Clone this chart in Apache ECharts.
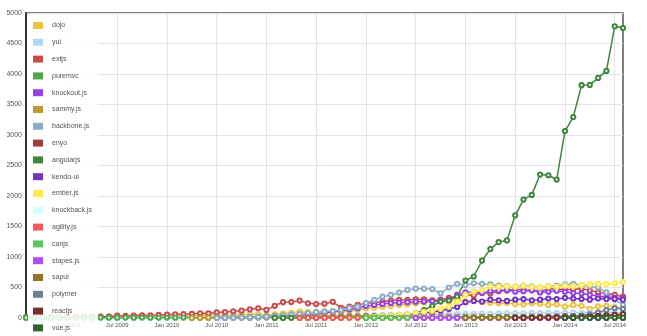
<!DOCTYPE html>
<html>
<head>
<meta charset="utf-8">
<script src="https://cdn.jsdelivr.net/npm/echarts@6/dist/echarts.min.js"></script>
<style>
html,body{margin:0;padding:0;background:#fff;}
#chart{width:647px;height:336px;}
</style>
</head>
<body>
<div id="chart"></div>
<script>
// Monthly data, first point = Aug 2008, last = Aug 2014 (73 months)
const startYear = 2008, startMonth = 8;
const yTicks = [0, 500, 1000, 1500, 2000, 2500, 3000, 3500, 4000, 4500, 5000];
const xTickLabels = ['Jan 2009','Jul 2009','Jan 2010','Jul 2010','Jan 2011','Jul 2011','Jan 2012','Jul 2012','Jan 2013','Jul 2013','Jan 2014','Jul 2014'];
const names = ['dojo','yui','extjs','puremvc','knockout.js','sammy.js','backbone.js','enyo','angularjs','kendo-ui','ember.js','knockback.js','agility.js','canjs','stapes.js','sapui','polymer','reactjs','vue.js'];
const colors = ['#edc240','#afd8f8','#cb4b4b','#4da74d','#9440ed','#be9b33','#8cadc6','#a23c3c','#3e863e','#7633be','#ffe94d','#d2ffff','#f45a5a','#5cc85c','#b24dff','#8e7426','#698295','#7a2d2d','#2e642e'];
const N = null;
function nulls(n){ const a=[]; for(let i=0;i<n;i++) a.push(N); return a; }

const dojo = [10,12,15,14,18,20,18,22,25,24,28,30,28,32,35,33,36,
  38,40,42,45,44,48,50,52,55,54,58,60,
  49,60,77,85,104,95,100,110,104,98,110,130,
  160,170,186,195,214,225,241,250,296,280,270,300,
  268,290,260,250,240,245,230,220,240,235,215,225,
  186,214,200,150,190,200,180,160];
const yui = [0,2,3,3,5,5,6,5,8,8,10,10,12,10,12,14,12,
  15,15,14,16,18,15,18,20,18,20,22,20,
  22,25,24,25,28,30,32,30,35,38,40,42,
  45,48,50,52,55,52,58,60,62,60,65,66,
  68,70,72,70,75,78,80,78,82,80,85,82,
  85,88,86,90,88,92,90,88];
const extjs = [15,15,18,18,20,20,22,20,22,22,22,38,35,40,45,42,50,
  55,60,62,70,77,75,93,95,110,120,143,160,
  132,200,260,262,285,240,228,235,265,165,186,214,
  241,252,268,285,296,296,307,307,285,300,330,360,
  380,370,420,400,440,450,470,460,455,440,470,480,
  460,470,480,450,420,400,380,350];
const puremvc = [5,5,6,6,5,6,7,6,6,7,6,6,7,6,7,6,6,
  7,6,7,6,7,6,7,7,6,7,6,7,
  8,7,8,8,7,8,9,8,8,9,8,9,
  9,8,9,10,9,9,10,9,10,9,10,10,
  9,10,9,10,9,10,10,9,10,9,10,9,
  10,9,10,10,9,10,9,10];
const knockout = nulls(23).concat([5,8,10,12,15,20,
  25,30,35,40,45,50,60,77,100,120,140,160,
  197,215,230,245,252,260,268,272,276,280,296,380,
  420,430,410,440,450,460,430,440,455,420,430,445,
  430,410,400,380,360,340,330,325]);
const sammy = nulls(20).concat([2,3,5,5,8,10,12,15,15,
  18,20,22,25,28,25,30,32,30,35,32,30,
  35,32,30,28,30,28,25,28,26,25,24,25,
  22,24,22,20,22,20,18,20,18,16,18,15,
  16,14,15,14,12,14,12,12]);
const backbone = nulls(23).concat([2,4,6,8,12,18,
  25,35,45,55,65,80,95,105,115,130,165,186,
  246,296,350,378,416,460,480,480,475,405,500,560,
  540,570,560,550,530,520,510,530,520,500,520,530,
  550,560,540,520,500,420,300,214]);
const enyo = nulls(41).concat([2,3,3,4,5,5,6,6,8,8,10,10,
  12,12,14,15,16,18,20,20,22,24,25,28,
  30,32,35,38,40,45,50,55]);
const angularjs = nulls(30).concat([1,2,3,4,5,6,8,10,12,15,18,
  22,26,30,38,45,55,80,130,200,270,285,350,
  613,680,942,1130,1245,1272,1683,1941,2018,2352,2340,2270,
  3064,3294,3816,3821,3936,4051,4781,4753]);
const kendo = nulls(41).concat([10,15,20,30,40,50,60,80,100,120,150,180,
  260,280,270,300,290,280,300,310,290,300,320,310,
  330,320,310,300,320,310,315,300]);
const ember = nulls(39).concat([2,5,
  10,20,30,40,50,60,80,100,120,150,186,268,
  378,432,460,515,510,520,515,530,510,500,520,510,
  530,520,540,550,560,555,570,590]);
const knockback = nulls(45).concat([0,1,1,2,2,3,3,4,
  4,5,5,4,5,6,5,6,5,6,6,5,
  6,5,6,6,5,6,5,6]);
const agility = nulls(33).concat([0,1,1,2,2,2,3,3,
  3,3,4,3,4,4,3,4,4,3,4,4,
  3,4,3,4,3,4,3,3,4,3,3,3,
  3,3,2,3,3,2,3,2]);
const canjs = nulls(41).concat([1,2,2,3,3,4,5,5,6,7,8,8,
  9,10,10,11,12,12,13,12,14,13,14,15,
  15,16,15,17,16,18,17,18]);
const stapes = nulls(47).concat([0,1,1,2,2,2,
  3,3,3,4,3,4,3,4,4,3,4,3,
  3,4,3,3,4,3,3,3]);
const sapui = nulls(53).concat([1,2,3,4,5,6,8,10,12,14,16,18,
  20,25,28,30,35,40,45,50]);
const polymer = nulls(59).concat([1,2,5,8,12,18,
  25,30,40,60,90,130,160,150]);
const reactjs = nulls(59).concat([1,2,3,5,6,8,10,14,18,24,30,40,50,62]);
const vuejs = nulls(65).concat([0,1,1,2,2,3,4,5]);

const seriesValues = [dojo,yui,extjs,puremvc,knockout,sammy,backbone,enyo,angularjs,kendo,ember,knockback,agility,canjs,stapes,sapui,polymer,reactjs,vuejs];

// month index counted from Jan 2008 (Jan 2008 = 0)
const x0 = (startYear - 2008) * 12 + (startMonth - 1);
function labelToIndex(s){
  const parts = s.split(' ');
  const m = parts[0] === 'Jan' ? 0 : 6;
  return (parseInt(parts[1],10) - 2008) * 12 + m;
}
const xTickValues = xTickLabels.map(labelToIndex);
const xMax = x0 + dojo.length - 1;

const series = seriesValues.map((vals, k) => ({
  name: names[k],
  type: 'line',
  data: vals.map((v, i) => v === null ? null : [x0 + i, v]).filter(d => d !== null),
  color: colors[k],
  symbol: 'emptyCircle',
  symbolSize: 4.2,
  showSymbol: true,
  showAllSymbol: true,
  lineStyle: { width: 1.5, color: colors[k] },
  itemStyle: { color: colors[k], borderColor: colors[k], borderWidth: 1.2 },
  emphasis: { disabled: true },
  animation: false
}));

const chart = echarts.init(document.getElementById('chart'), null, { renderer: 'canvas' });
chart.setOption({
  animation: false,
  backgroundColor: '#fff',
  grid: { left: 26, right: 24, top: 13, bottom: 18, show: true, borderColor: '#555', borderWidth: 1.5, backgroundColor: 'transparent' },
  xAxis: {
    type: 'value', min: x0, max: xMax,
    axisLine: { show: false },
    axisTick: { show: false, customValues: xTickValues },
    axisLabel: {
      customValues: xTickValues,
      formatter: v => xTickLabels[xTickValues.indexOf(v)] || '',
      fontSize: 6, color: '#545454', margin: 4, fontFamily: 'Liberation Sans, Arial, sans-serif'
    },
    splitLine: { show: true, lineStyle: { color: '#e4e4e4', width: 1 } }
  },
  yAxis: {
    type: 'value', min: yTicks[0], max: yTicks[yTicks.length - 1], interval: yTicks[1] - yTicks[0],
    axisLine: { show: true, lineStyle: { color: '#333', width: 2 } },
    axisTick: { show: false },
    axisLabel: { fontSize: 7, color: '#545454', margin: 4, fontFamily: 'Liberation Sans, Arial, sans-serif', formatter: v => String(v) },
    splitLine: { show: true, lineStyle: { color: '#e4e4e4', width: 1 } }
  },
  legend: {
    orient: 'vertical', left: 28, top: 15,
    padding: [7, 6, 4, 5],
    backgroundColor: 'rgba(255,255,255,0.85)',
    icon: 'rect', itemWidth: 10, itemHeight: 7, itemGap: 9.8,
    itemStyle: { borderWidth: 0 },
    textStyle: { fontSize: 7, color: '#545454', padding: [0, 0, 0, 4], fontFamily: 'Liberation Sans, Arial, sans-serif' },
    selectedMode: false,
    data: names.map((n, k) => ({ name: n, itemStyle: { color: colors[k], borderWidth: 0 } }))
  },
  series: series
});
</script>
</body>
</html>
